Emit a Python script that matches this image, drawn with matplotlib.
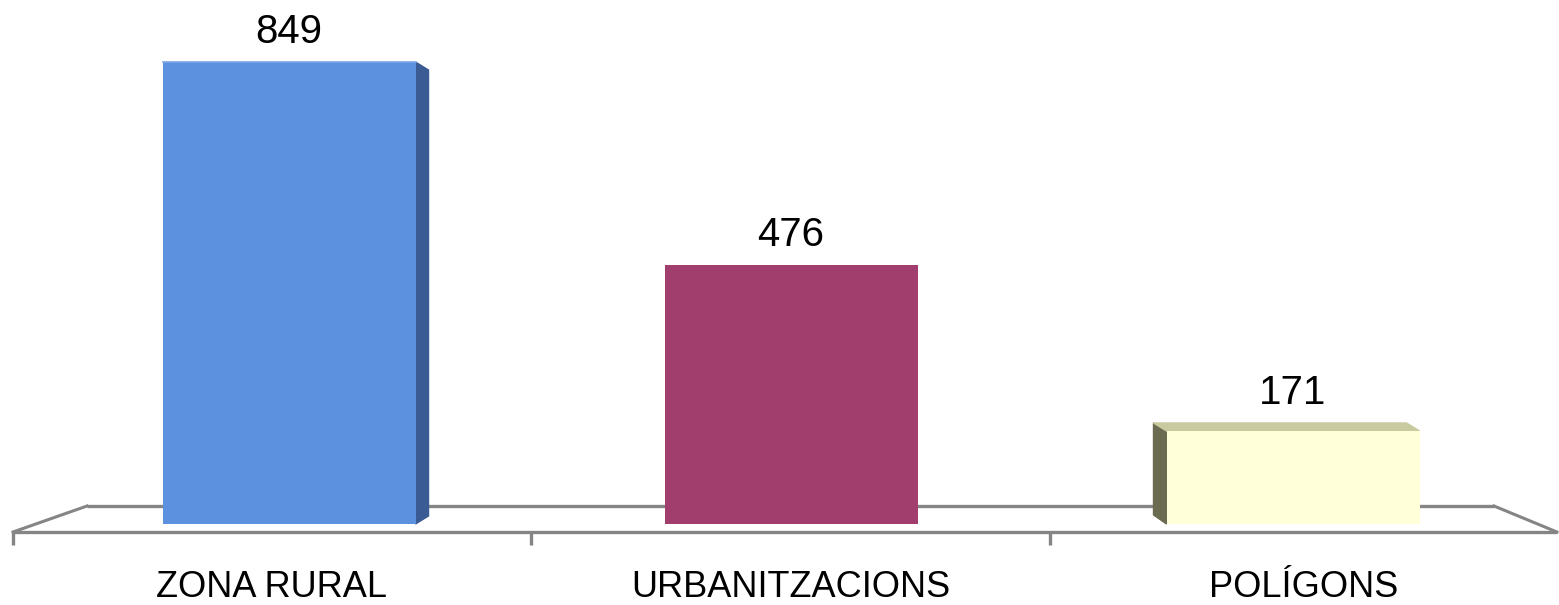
import matplotlib.pyplot as plt
import numpy as np

categories = ["ZONA RURAL", "URBANITZACIONS", "POLÍGONS"]
values = [849, 476, 171]
front_colors = ["#5b91df", "#a23e6e", "#ffffd9"]
side_colors = ["#3a5b93", "#7a2e52", "#6b6b52"]
top_colors = ["#7aa6e6", "#b85c88", "#cacaa0"]

plt.rcParams["font.family"] = ["Liberation Sans", "DejaVu Sans"]

W, H = 1559, 605
fig = plt.figure(figsize=(W / 100, H / 100), dpi=100)

# floor / frame drawn in pixel coordinates
floor = fig.add_axes([0, 0, 1, 1])
floor.set_xlim(0, W)
floor.set_ylim(H, 0)
floor.axis("off")
gray = "#858585"
floor.plot([13, 1557], [532, 532], color=gray, lw=2.4, solid_capstyle="butt")
floor.plot([87, 1494], [506, 506], color=gray, lw=2.4, solid_capstyle="butt")
floor.plot([13, 87], [532, 506], color=gray, lw=2.2)
floor.plot([1494, 1557], [506, 532], color=gray, lw=2.2)
ticks = [13, 531, 1050, 1557]
for t in ticks[:3]:
    floor.plot([t, t], [532, 545], color=gray, lw=2.4, solid_capstyle="butt")
for i, name in enumerate(categories):
    mid = (ticks[i] + ticks[i + 1]) / 2
    floor.text(mid, 597, name, ha="center", va="baseline", fontsize=26, color="black")

# bars in data coordinates
ax = fig.add_axes([0, 0, 1, 1], zorder=2)
ax.patch.set_alpha(0)
px_x = 502.0          # pixels per category
px_y = 462.0 / 849    # pixels per unit value
x0, y0 = 289.0, 81.0  # pixel position of category 0 / value 0 (from bottom)
ax.set_xlim(-x0 / px_x, (W - x0) / px_x)
ax.set_ylim(-y0 / px_y, (H - y0) / px_y)
ax.axis("off")

x = np.arange(len(categories))
bw = 253 / px_x
dx = 13 / px_x
dy = 8 / px_y
ax.bar(x, values, width=bw, color=front_colors, zorder=3)

for i, v in enumerate(values):
    left, right = x[i] - bw / 2, x[i] + bw / 2
    if i == 0:
        side = [(right, 0), (right + dx, dy), (right + dx, v - dy), (right, v)]
        ax.fill([p[0] for p in side], [p[1] for p in side], color=side_colors[i], zorder=2)
        ax.plot([left, right], [v, v], color=top_colors[i], lw=1.2, zorder=4)
    elif i == 2:
        side = [(left, 0), (left - dx, dy + 2), (left - dx, v + dy), (left, v)]
        ax.fill([p[0] for p in side], [p[1] for p in side], color=side_colors[i], zorder=2)
        top = [(left - dx, v + dy), (left, v), (right, v), (right - dx, v + dy)]
        ax.fill([p[0] for p in top], [p[1] for p in top], color=top_colors[i], zorder=2)
    lift = dy if i == 2 else 0
    ax.annotate(str(v), (x[i], v + lift), xytext=(0, 14), textcoords="offset points",
                ha="center", va="baseline", fontsize=29, color="black")

fig.savefig("out.png", dpi=100)
